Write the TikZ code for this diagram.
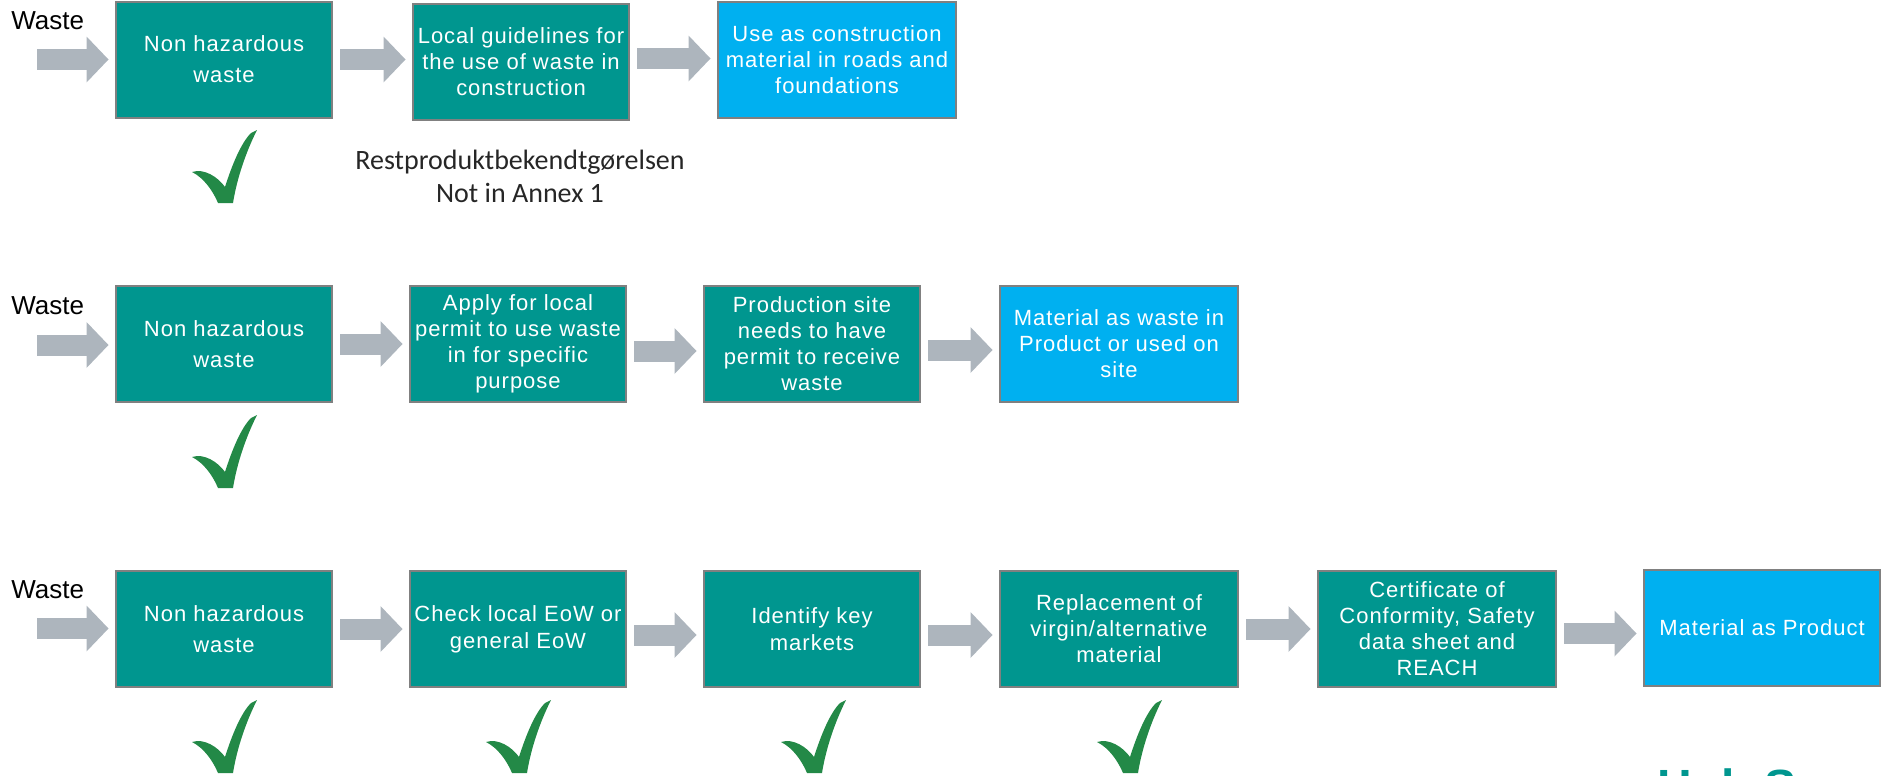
\documentclass[tikz,border=0pt]{standalone}
\usepackage{fontspec}
\setmainfont{Liberation Sans}
\newfontfamily\boxfont[LetterSpace=4.5]{Liberation Sans}
\newfontfamily\notefont{Carlito}
\usepackage{tikz}
\usetikzlibrary{arrows.meta,positioning}
\usepackage{xcolor}

\definecolor{boxteal}{RGB}{0,150,143}
\definecolor{boxblue}{RGB}{0,176,240}
\definecolor{boxedge}{RGB}{128,128,128}
\definecolor{arrowgray}{RGB}{173,181,189}
\definecolor{tickgreen}{RGB}{35,137,71}

\tikzset{
  greenbox/.style={draw=boxedge, line width=1pt, fill=boxteal, text=white,
    minimum width=108pt, minimum height=58pt, inner sep=0pt, align=center,
    font=\boxfont\fontsize{11}{13}\selectfont},
  bluebox/.style={greenbox, fill=boxblue, minimum width=119pt},
  loose/.style={font=\boxfont\fontsize{11}{15.5}\selectfont},
  wastelabel/.style={anchor=base west, inner sep=0pt, font=\fontsize{13}{15}\selectfont},
  notetext/.style={align=center, inner sep=0pt, text=black!85,
    font=\notefont\fontsize{14}{16.5}\selectfont},
  flowarrow/.style={draw=arrowgray, line width=10.5pt,
    -{Triangle[length=11pt,width=23pt,line width=0pt]},
    shorten <=3.5pt, shorten >=3.25pt},
  okmark/.pic={
    \fill[tickgreen] (0,42) .. controls (12,38) and (26,47) .. (33,57)
      .. controls (40,35) and (49,13) .. (59,3) -- (65,0)
      .. controls (54,22) and (45,48) .. (41,73) -- (26,73)
      .. controls (21,61) and (12,48) .. (0,42) -- cycle;
  }
}

\begin{document}
\begin{tikzpicture}[x=0.5pt,y=-0.5pt]
\useasboundingbox (0,0) rectangle (1881,776);

% row 1
\node[wastelabel] (w1) at (11,30) {Waste};
\coordinate (in1) at (30,59.5);
\node[greenbox, loose] (r1a) at (224,59.5) {Non hazardous\\waste};
\node[greenbox] (r1b) at (521,62) {Local guidelines for\\the use of waste in\\construction};
\node[bluebox] (r1c) at (837,60) {Use as construction\\material in roads and\\foundations};
\node[notetext] (law) at (520,176) {Restproduktbekendtgørelsen\\Not in Annex 1};

\draw[flowarrow] (in1) -- (in1 -| r1a.west);
\draw[flowarrow] (r1a.east) -- (r1a.east -| r1b.west);
\draw[flowarrow] ([yshift=1.75pt]r1b.east) -- ([yshift=1.75pt]r1b.east -| r1c.west);

\pic at (192,130) {okmark};

% row 2
\node[wastelabel] (w2) at (11,314) {Waste};
\coordinate (in2) at (30,345);
\node[greenbox, loose] (r2a) at (224,344) {Non hazardous\\waste};
\node[greenbox] (r2b) at (518,344) {Apply for local\\permit to use waste\\in for specific\\purpose};
\node[greenbox] (r2c) at (812,344) {Production site\\needs to have\\permit to receive\\waste};
\node[bluebox] (r2d) at (1119,344) {Material as waste in\\Product or used on\\site};

\draw[flowarrow] (in2) -- (in2 -| r2a.west);
\draw[flowarrow] (r2a.east) -- (r2a.east -| r2b.west);
\draw[flowarrow] ([yshift=-3.5pt]r2b.east) -- ([yshift=-3.5pt]r2b.east -| r2c.west);
\draw[flowarrow] ([yshift=-3pt]r2c.east) -- ([yshift=-3pt]r2c.east -| r2d.west);

\pic at (192,415) {okmark};

% row 3
\node[wastelabel] (w3) at (11,598) {Waste};
\coordinate (in3) at (30,628.5);
\node[greenbox, loose] (r3a) at (224,629) {Non hazardous\\waste};
\node[greenbox, font=\boxfont\fontsize{11}{13.5}\selectfont] (r3b) at (518,629) {Check local EoW or\\general EoW};
\node[greenbox, font=\boxfont\fontsize{11}{13.5}\selectfont] (r3c) at (812,629) {Identify key\\markets};
\node[bluebox, fill=boxteal] (r3d) at (1119,629) {Replacement of\\virgin/alternative\\material};
\node[bluebox, fill=boxteal] (r3e) at (1437,629) {Certificate of\\Conformity, Safety\\data sheet and\\REACH};
\node[bluebox, minimum width=118pt] (r3f) at (1762,628) {Material as Product};

\draw[flowarrow] (in3) -- (in3 -| r3a.west);
\draw[flowarrow] (r3a.east) -- (r3a.east -| r3b.west);
\draw[flowarrow] ([yshift=-3pt]r3b.east) -- ([yshift=-3pt]r3b.east -| r3c.west);
\draw[flowarrow] ([yshift=-3pt]r3c.east) -- ([yshift=-3pt]r3c.east -| r3d.west);
\draw[flowarrow] (r3d.east) -- (r3d.east -| r3e.west);
\draw[flowarrow] ([yshift=-2.25pt]r3e.east) -- ([yshift=-2.25pt]r3e.east -| r3f.west);

\pic at (192,700) {okmark};
\pic at (486,700) {okmark};
\pic at (781,700) {okmark};
\pic at (1097,700) {okmark};

% cut-off text at the lower edge
\begin{scope}
\clip (0,0) rectangle (1881,776);
\node[anchor=base west, inner sep=0pt, text=boxteal,
  font=\bfseries\fontsize{24}{28}\selectfont] (hub) at (1657,803) {Hub S};
\end{scope}

\end{tikzpicture}
\end{document}
